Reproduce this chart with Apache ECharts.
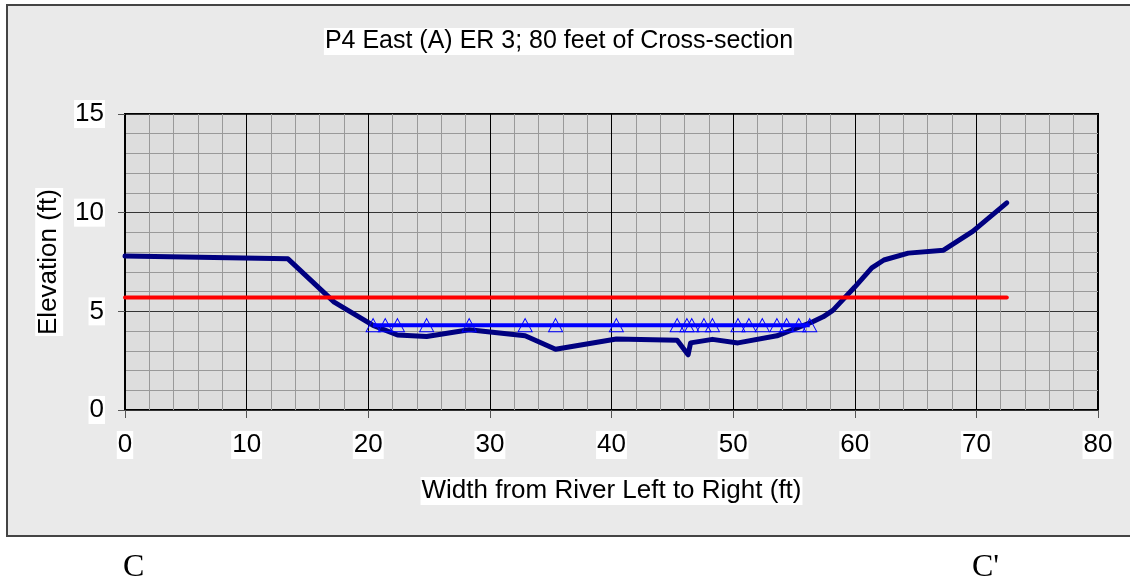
<!DOCTYPE html>
<html>
<head>
<meta charset="utf-8">
<script src="https://cdn.jsdelivr.net/npm/echarts@6/dist/echarts.min.js"></script>
<style>
  html, body { margin: 0; padding: 0; background: #fff; }
  #chart { width: 1130px; height: 580px; }
</style>
</head>
<body>
<div id="chart"></div>
<script>
// cross-section P4 East (A) ER 3

const groundX = [0, 13.4, 17.2, 20.4, 22.4, 24.8, 28.3, 32.9, 35.4, 40.4, 45.4, 46.3, 46.5, 48.3, 50.4, 53.6, 56.5, 57.4, 58.2, 60.0, 61.4, 62.4, 64.4, 67.3, 69.7, 72.5];
const groundY = [7.8, 7.66, 5.47, 4.29, 3.8, 3.72, 4.07, 3.76, 3.08, 3.6, 3.54, 2.8, 3.4, 3.58, 3.4, 3.76, 4.46, 4.72, 5.05, 6.23, 7.2, 7.6, 7.95, 8.1, 9.05, 10.5];

const waterX = [20.4, 21.4, 22.4, 24.8, 28.3, 32.9, 35.4, 40.4, 45.4, 46.2, 46.6, 47.6, 48.3, 50.4, 51.3, 52.4, 53.6, 54.4, 55.4, 56.3];
const waterY = [4.3, 4.3, 4.3, 4.3, 4.3, 4.3, 4.3, 4.3, 4.3, 4.3, 4.3, 4.3, 4.3, 4.3, 4.3, 4.3, 4.3, 4.3, 4.3, 4.3];

const bankX = [0, 72.5];
const bankY = [5.7, 5.7];

const xTicks = [0, 10, 20, 30, 40, 50, 60, 70, 80];
const yTicks = [0, 5, 10, 15];

const titleText = 'P4 East (A) ER 3; 80 feet of Cross-section';
const xName = 'Width from River Left to Right (ft)';
const yName = 'Elevation (ft)';

const pairs = (xs, ys) => xs.map((x, i) => [x, ys[i]]);
const font = "'Liberation Sans', Arial, sans-serif";
const serif = "32px 'Liberation Serif', 'Times New Roman', serif";

const chart = echarts.init(document.getElementById('chart'));
chart.setOption({
    animation: false,
    textStyle: { fontFamily: font },
    graphic: [
        {
            type: 'rect', z: -100,
            shape: { x: 7, y: 5, width: 1140, height: 531 },
            style: { fill: '#eaeaea', stroke: '#444', lineWidth: 2 }
        },
        { type: 'text', left: 123, top: 552, style: { text: 'C', font: serif, fill: '#000' } },
        { type: 'text', left: 972, top: 552, style: { text: "C'", font: serif, fill: '#000' } }
    ],
    title: {
        text: titleText,
        left: 558, top: 28,
        textAlign: 'center',
        backgroundColor: '#fff',
        padding: [1, 1],
        textStyle: { fontFamily: font, fontSize: 25, fontWeight: 'normal', color: '#000' }
    },
    grid: {
        left: 125, right: 32, top: 114, bottom: 170,
        show: true,
        backgroundColor: '#dddddd',
        borderColor: '#000',
        borderWidth: 2
    },
    xAxis: {
        type: 'value',
        min: xTicks[0], max: xTicks[xTicks.length - 1], interval: 10,
        name: xName,
        nameLocation: 'middle',
        nameGap: 67,
        nameTextStyle: { fontSize: 26, color: '#000', backgroundColor: '#fff', padding: [1, 1] },
        axisLine: { show: false },
        axisTick: { show: true, length: 8, lineStyle: { color: '#555' } },
        axisLabel: { fontSize: 26, color: '#000', margin: 21, backgroundColor: '#fff', padding: [1, 1] },
        splitLine: { show: true, lineStyle: { color: '#000', width: 1 } },
        minorTick: { show: false, splitNumber: 5 },
        minorSplitLine: { show: true, lineStyle: { color: '#999', width: 1 } }
    },
    yAxis: {
        type: 'value',
        min: yTicks[0], max: yTicks[yTicks.length - 1], interval: 5,
        name: yName,
        nameLocation: 'middle',
        nameGap: 60,
        nameTextStyle: { fontSize: 26, color: '#000', backgroundColor: '#fff', padding: [1, 1] },
        axisLine: { show: false },
        axisTick: { show: true, length: 7, lineStyle: { color: '#555' } },
        axisLabel: { fontSize: 26, color: '#000', margin: 20, backgroundColor: '#fff', padding: [1, 1] },
        splitLine: { show: true, lineStyle: { color: '#333', width: 1 } },
        minorTick: { show: false, splitNumber: 5 },
        minorSplitLine: { show: true, lineStyle: { color: '#999', width: 1 } }
    },
    series: [
        {
            name: 'Ground',
            type: 'line',
            data: pairs(groundX, groundY),
            showSymbol: false,
            symbol: 'none',
            lineStyle: { color: '#000080', width: 5, cap: 'round', join: 'round' }
        },
        {
            name: 'Water surface',
            type: 'line',
            data: pairs(waterX, waterY),
            symbol: 'triangle',
            symbolSize: [14, 13],
            itemStyle: { color: 'rgba(0,0,0,0)', borderColor: '#0000ff', borderWidth: 1 },
            lineStyle: { color: '#0000ff', width: 4 }
        },
        {
            name: 'Bankfull',
            type: 'line',
            data: pairs(bankX, bankY),
            symbol: 'none',
            lineStyle: { color: '#ff0000', width: 4, cap: 'round' }
        }
    ]
});
window.addEventListener('resize', () => chart.resize());
</script>
</body>
</html>
